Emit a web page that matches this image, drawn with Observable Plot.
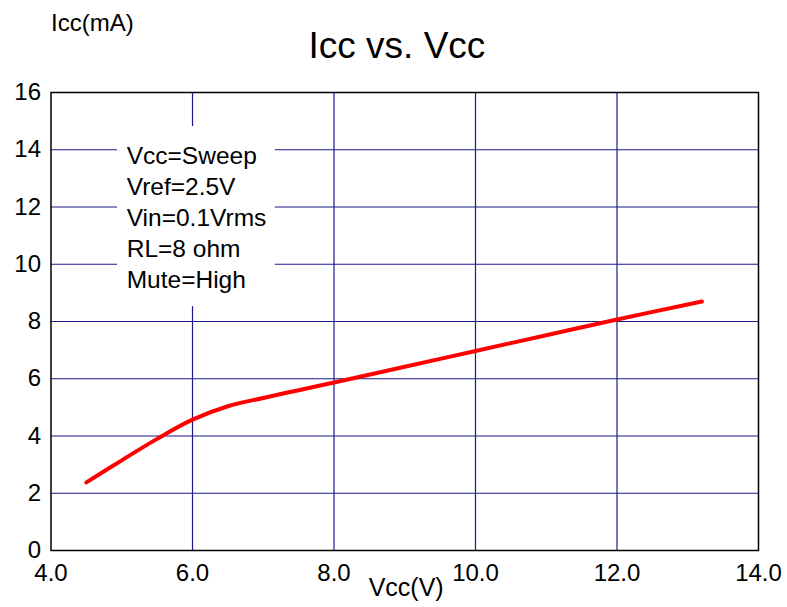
<!DOCTYPE html>
<html>
<head>
<meta charset="utf-8">
<script src="https://cdn.jsdelivr.net/npm/d3@7"></script>
<script src="https://cdn.jsdelivr.net/npm/@observablehq/plot@0.6"></script>
<style>
  html, body { margin: 0; padding: 0; background: #fff; }
  svg { font-family: "Liberation Sans", Arial, sans-serif; }
</style>
</head>
<body>
<div id="chart"></div>
<script>
// Data
const vcc = [4.5, 5.0, 5.5, 6.0, 6.5, 7.0, 7.5, 8.0, 9.0, 10.0, 11.0, 12.0, 13.2];
const icc = [2.38, 3.15, 3.9, 4.57, 5.04, 5.33, 5.6, 5.87, 6.42, 6.97, 7.52, 8.07, 8.7];
const xTicks = [4, 6, 8, 10, 12, 14];
const yTicks = [0, 2, 4, 6, 8, 10, 12, 14, 16];
const xGrid = [6, 8, 10, 12];
const yGrid = [2, 4, 6, 8, 10, 12, 14];
const noteLines = ["Vcc=Sweep", "Vref=2.5V", "Vin=0.1Vrms", "RL=8 ohm", "Mute=High"];
const noteBox = [{x1: 4.94, x2: 7.17, y1: 8.52, y2: 14.81}];
const noteAnchor = [{x: 5.07, y: 14.26}];

const data = vcc.map((v, i) => ({vcc: v, icc: icc[i]}));

const chart = Plot.plot({
  width: 787,
  height: 607,
  marginLeft: 50.5,
  marginRight: 29,
  marginTop: 92,
  marginBottom: 57,
  style: {fontFamily: '"Liberation Sans", Arial, sans-serif', color: "#000", background: "#fff"},
  x: {domain: [4, 14]},
  y: {domain: [0, 16]},
  marks: [
    Plot.ruleX(xGrid, {stroke: "#1a1a8c", strokeWidth: 1.2}),
    Plot.ruleY(yGrid, {stroke: "#1a1a8c", strokeWidth: 1.2}),
    Plot.rect(noteBox, {x1: "x1", x2: "x2", y1: "y1", y2: "y2", fill: "#fff"}),
    Plot.text(noteAnchor, {x: "x", y: "y", text: () => noteLines.join("\n"), textAnchor: "start", lineAnchor: "top", fontSize: 24.5, lineHeight: 31 / 24.5, fill: "#000"}),
    Plot.line(data, {x: "vcc", y: "icc", stroke: "#ff0000", strokeWidth: 4, curve: "catmull-rom", strokeLinecap: "round"}),
    Plot.frame({stroke: "#000", strokeWidth: 1.5}),
    Plot.axisX(xTicks, {tickSize: 0, tickPadding: 13, tickFormat: d3.format(".1f"), fontSize: 24, label: null}),
    Plot.axisY(yTicks, {tickSize: 0, tickPadding: 10, fontSize: 24, label: null}),
    Plot.text(["Icc vs. Vcc"], {frameAnchor: "top", dy: -35, x: () => 8.89, text: d => d, fontSize: 37, lineAnchor: "bottom", fill: "#000"}),
    Plot.text(["Icc(mA)"], {frameAnchor: "top-left", dy: -62, text: d => d, fontSize: 24, textAnchor: "start", lineAnchor: "bottom", fill: "#000"}),
    Plot.text(["Vcc(V)"], {frameAnchor: "bottom", x: () => 9.02, dy: 45, text: d => d, fontSize: 25, lineAnchor: "bottom", fill: "#000"})
  ]
});
document.getElementById("chart").appendChild(chart);
</script>
</body>
</html>
